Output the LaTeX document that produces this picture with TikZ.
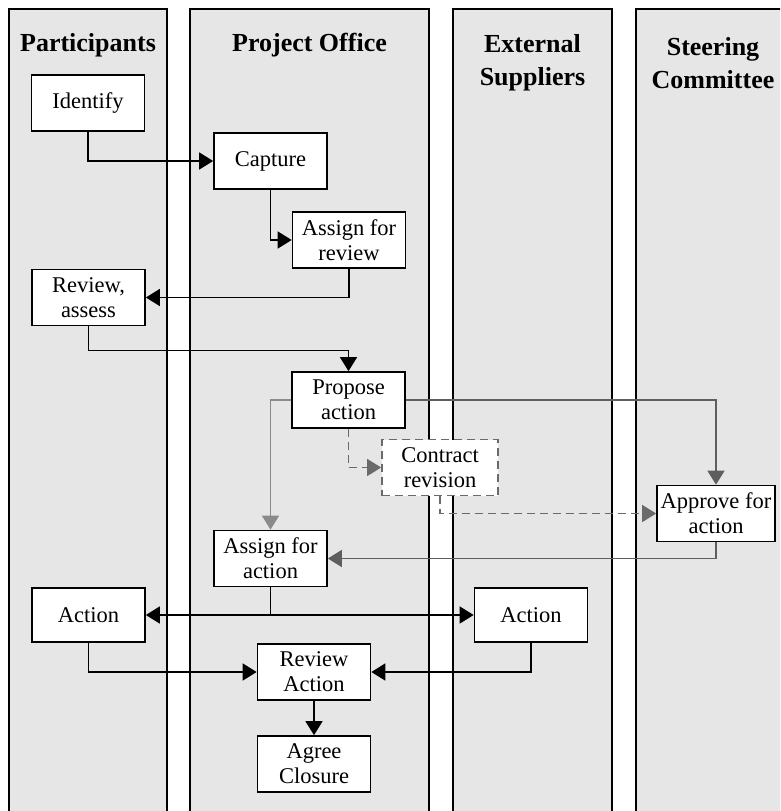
\documentclass[tikz,border=0pt]{standalone}
\usepackage{fontspec}
\setmainfont{Liberation Serif}
\usepackage{tikz}
\usetikzlibrary{arrows.meta,positioning}
\definecolor{LaneGrey}{HTML}{E6E6E6}
\definecolor{FlowGrey}{HTML}{5E5E5E}
\definecolor{FlowGreyLight}{HTML}{8A8A8A}
\definecolor{DashGrey}{HTML}{6A6A6A}

\begin{document}
\begin{tikzpicture}[x=1pt,y=-1pt,
		task/.style={draw,fill=white,line width=1.7pt,minimum width=113pt,minimum height=56pt,inner sep=1pt,align=center,font=\fontsize{22.5}{25}\selectfont},
		lanehead/.style={align=center,font=\bfseries\fontsize{26}{33}\selectfont},
		flow/.style={line width=1.6pt,-{Triangle[length=14pt,width=17pt]}},
		greyflow/.style={flow,FlowGrey},
		dashflow/.style={flow,DashGrey,dash pattern=on 8pt off 5pt}]
		\clip (0,0) rectangle (780,811);
		\fill[white] (0,0) rectangle (780,811);
		% swim lanes
		\foreach \l/\r in {9/167,190/429,453/612,636/800} {
			\fill[LaneGrey] (\l,9) rectangle (\r,830);
			\draw[black,line width=1.8pt] (\l,9) rectangle (\r,830);
		}
		\node[lanehead] (hpart) at (88,45) {Participants};
		\node[lanehead] (hoffice) at (309.5,45) {Project Office};
		\node[lanehead] (hsupp) at (532.5,63) {External\\Suppliers};
		\node[lanehead] (hsteer) at (713,63) {Steering\\Committee};
		% tasks
		\node[task] (identify) at (88,103) {Identify};
		\node[task] (capture) at (270.5,161) {Capture};
		\node[task] (assignrev) at (349,240) {Assign for\\review};
		\node[task] (reviewass) at (88.5,297.5) {Review,\\assess};
		\node[task] (propose) at (348.5,400) {Propose\\action};
		\node[task,draw=DashGrey,dash pattern=on 8pt off 5pt,minimum width=116pt] (contract) at (440,467.5) {Contract\\revision};
		\node[task,minimum width=118pt] (approve) at (716,513.5) {Approve for\\action};
		\node[task] (assignact) at (270.5,558.5) {Assign for\\action};
		\node[task,minimum height=54pt] (actionL) at (88.5,615) {Action};
		\node[task,minimum height=54pt] (actionR) at (531,615) {Action};
		\node[task] (reviewact) at (314,672) {Review\\Action};
		\node[task] (agree) at (314,764) {Agree\\Closure};
		% connectors
		\draw[flow] (identify) |- (capture);
		\draw[flow] (capture) |- (assignrev);
		\draw[flow] (assignrev) |- (reviewass);
		\draw[flow] (reviewass.south) -- ++(0,24) -| (propose.north);
		\draw[flow,FlowGreyLight] (propose) -| (assignact);
		\draw[greyflow] (propose) -| (approve);
		\draw[dashflow] (propose) |- (contract);
		\draw[dashflow] (contract) |- (approve);
		\draw[greyflow] (approve) |- (assignact);
		\draw[flow] (assignact) |- (actionL);
		\draw[flow] (assignact) |- (actionR);
		\draw[flow] (actionL) |- (reviewact);
		\draw[flow] (actionR) |- (reviewact);
		\draw[flow] (reviewact) -- (agree);
	\end{tikzpicture}
\end{document}
